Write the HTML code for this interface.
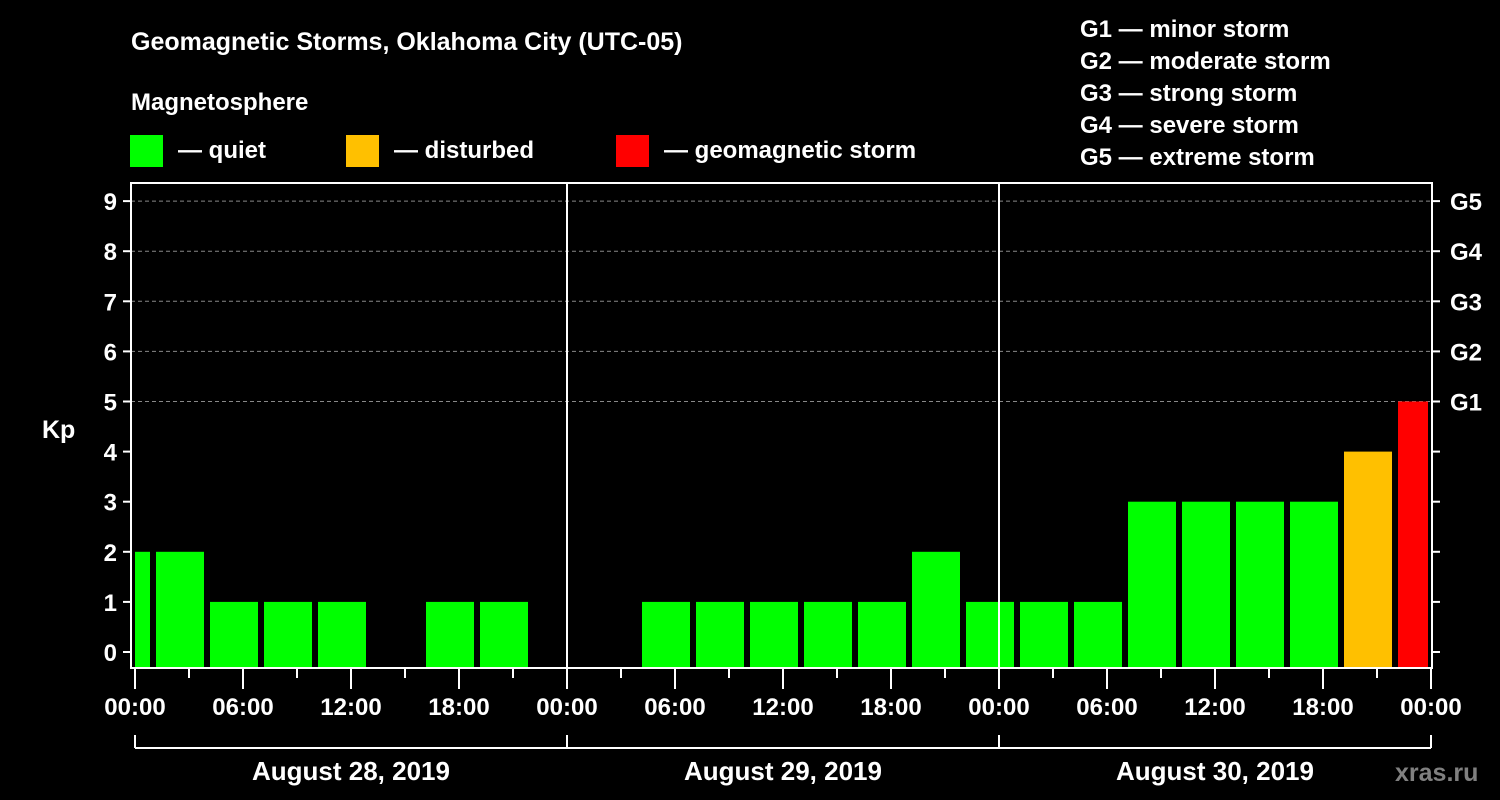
<!DOCTYPE html>
<html><head><meta charset="utf-8"><style>
html,body{margin:0;padding:0;background:#000;}
svg{display:block;font-family:"Liberation Sans",Arial,sans-serif;font-weight:bold;}
</style></head><body>
<svg id="chart" width="1500" height="800" viewBox="0 0 1500 800">
<rect width="1500" height="800" fill="#000"/>
<text x="131" y="50" fill="#fff" font-size="25">Geomagnetic Storms, Oklahoma City (UTC-05)</text>
<text x="131" y="110" fill="#fff" font-size="24">Magnetosphere</text>
<g><rect x="130" y="135" width="33" height="32" fill="#00ff00"/><text x="178" y="158" fill="#fff" font-size="24">— quiet</text></g>
<g><rect x="346" y="135" width="33" height="32" fill="#ffc000"/><text x="394" y="158" fill="#fff" font-size="24">— disturbed</text></g>
<g><rect x="616" y="135" width="33" height="32" fill="#ff0000"/><text x="664" y="158" fill="#fff" font-size="24">— geomagnetic storm</text></g>
<g fill="#fff" font-size="24">
<text x="1080" y="37">G1 — minor storm</text>
<text x="1080" y="69">G2 — moderate storm</text>
<text x="1080" y="101">G3 — strong storm</text>
<text x="1080" y="133">G4 — severe storm</text>
<text x="1080" y="165">G5 — extreme storm</text>
</g>
<g id="grid"></g>
<g id="bars"></g>
<g id="axes"></g>
<text x="42" y="438" fill="#fff" font-size="25">Kp</text>
<text x="1395" y="781" fill="#808080" font-size="25">xras.ru</text>
</svg>
<script>
// Kp values per 3-hour slot; slot hours in local time (UTC-05)
const days = ["August 28, 2019","August 29, 2019","August 30, 2019"];
const slotHours = [-2,1,4,7,10,13,16,19,22,25,28,31,34,37,40,43,46,49,52,55,58,61,64,67,70];
const kpValues = [2,2,1,1,1,0,1,1,0,0,1,1,1,1,1,2,1,1,1,3,3,3,3,4,5];
const yTicks = [0,1,2,3,4,5,6,7,8,9];
const gLabels = ["G1","G2","G3","G4","G5"];
const gLevels = [5,6,7,8,9];
const xTickLabels = ["00:00","06:00","12:00","18:00"];

const NS="http://www.w3.org/2000/svg";
const X0=135, pxPerHour=18, plotL=131, plotR=1432, plotT=183, plotB=667;
const xs = h => X0 + h*pxPerHour;
const ys = v => 652 - 50.1*v;
function mk(tag, attrs, parent){const e=document.createElementNS(NS,tag);for(const k in attrs)e.setAttribute(k,attrs[k]);parent.appendChild(e);return e;}
const grid=document.getElementById('grid'), bars=document.getElementById('bars'), axes=document.getElementById('axes');

gLevels.forEach((v,i)=>{
  const l=mk('line',{x1:plotL,x2:plotR,y1:ys(v),y2:ys(v),stroke:'#888','stroke-width':1,'stroke-dasharray':'4,3'},grid);
  
  
  const t=mk('text',{x:1450,y:ys(v)+9,fill:'#fff','font-size':24},axes);
  t.textContent=gLabels[i];
  
  
});
kpValues.forEach((v,i)=>{
  if(v<=0) return;
  let x1=Math.max(xs(slotHours[i])+3,X0), x2=Math.min(xs(slotHours[i]+3)-3,plotR-4);
  const c = v>=5?'#ff0000':(v>=4?'#ffc000':'#00ff00');
  const r=mk('rect',{x:x1,y:ys(v),width:x2-x1,height:plotB-ys(v),fill:c},bars);
  
  
});
// frame
const fr=mk('rect',{x:plotL,y:plotT,width:plotR-plotL,height:plotB-plotT+1,fill:'none',stroke:'#fff','stroke-width':2},axes);


yTicks.forEach(v=>{
  mk('line',{x1:123,x2:plotL,y1:ys(v),y2:ys(v),stroke:'#fff','stroke-width':2},axes);
  mk('line',{x1:plotR,x2:plotR+8,y1:ys(v),y2:ys(v),stroke:'#fff','stroke-width':2},axes);
  const t=mk('text',{x:117,y:ys(v)+9,fill:'#fff','font-size':24,'text-anchor':'end'},axes);
  t.textContent=v;
  
  
});
days.forEach((d,di)=>{
  const dx=xs(di*24);
  if(di>0){const s=mk('line',{x1:dx,x2:dx,y1:plotT,y2:plotB,stroke:'#fff','stroke-width':2},axes);
    
    }
  for(let h=0;h<24;h+=3){
    mk('line',{x1:xs(di*24+h),x2:xs(di*24+h),y1:plotB+1,y2:plotB+(h%6==0?22:11),stroke:'#fff','stroke-width':2},axes);
  }
  xTickLabels.forEach((lab,k)=>{
    const t=mk('text',{x:xs(di*24+k*6),y:715,fill:'#fff','font-size':24,'text-anchor':'middle'},axes);
    t.textContent=lab;
    
    
  });
  const t=mk('text',{x:xs(di*24+12),y:780,fill:'#fff','font-size':26,'text-anchor':'middle'},axes);
  t.textContent=d;
  
  
  mk('line',{x1:xs(di*24),x2:xs(di*24),y1:735,y2:748,stroke:'#fff','stroke-width':2},axes);
});
mk('line',{x1:xs(72),x2:xs(72),y1:plotB+1,y2:plotB+22,stroke:'#fff','stroke-width':2},axes);
const lt=mk('text',{x:xs(72),y:715,fill:'#fff','font-size':24,'text-anchor':'middle'},axes);
lt.textContent="00:00";


mk('line',{x1:xs(72),x2:xs(72),y1:735,y2:748,stroke:'#fff','stroke-width':2},axes);
const br=mk('line',{x1:xs(0),x2:xs(72),y1:748,y2:748,stroke:'#fff','stroke-width':2},axes);


</script>
</body></html>
